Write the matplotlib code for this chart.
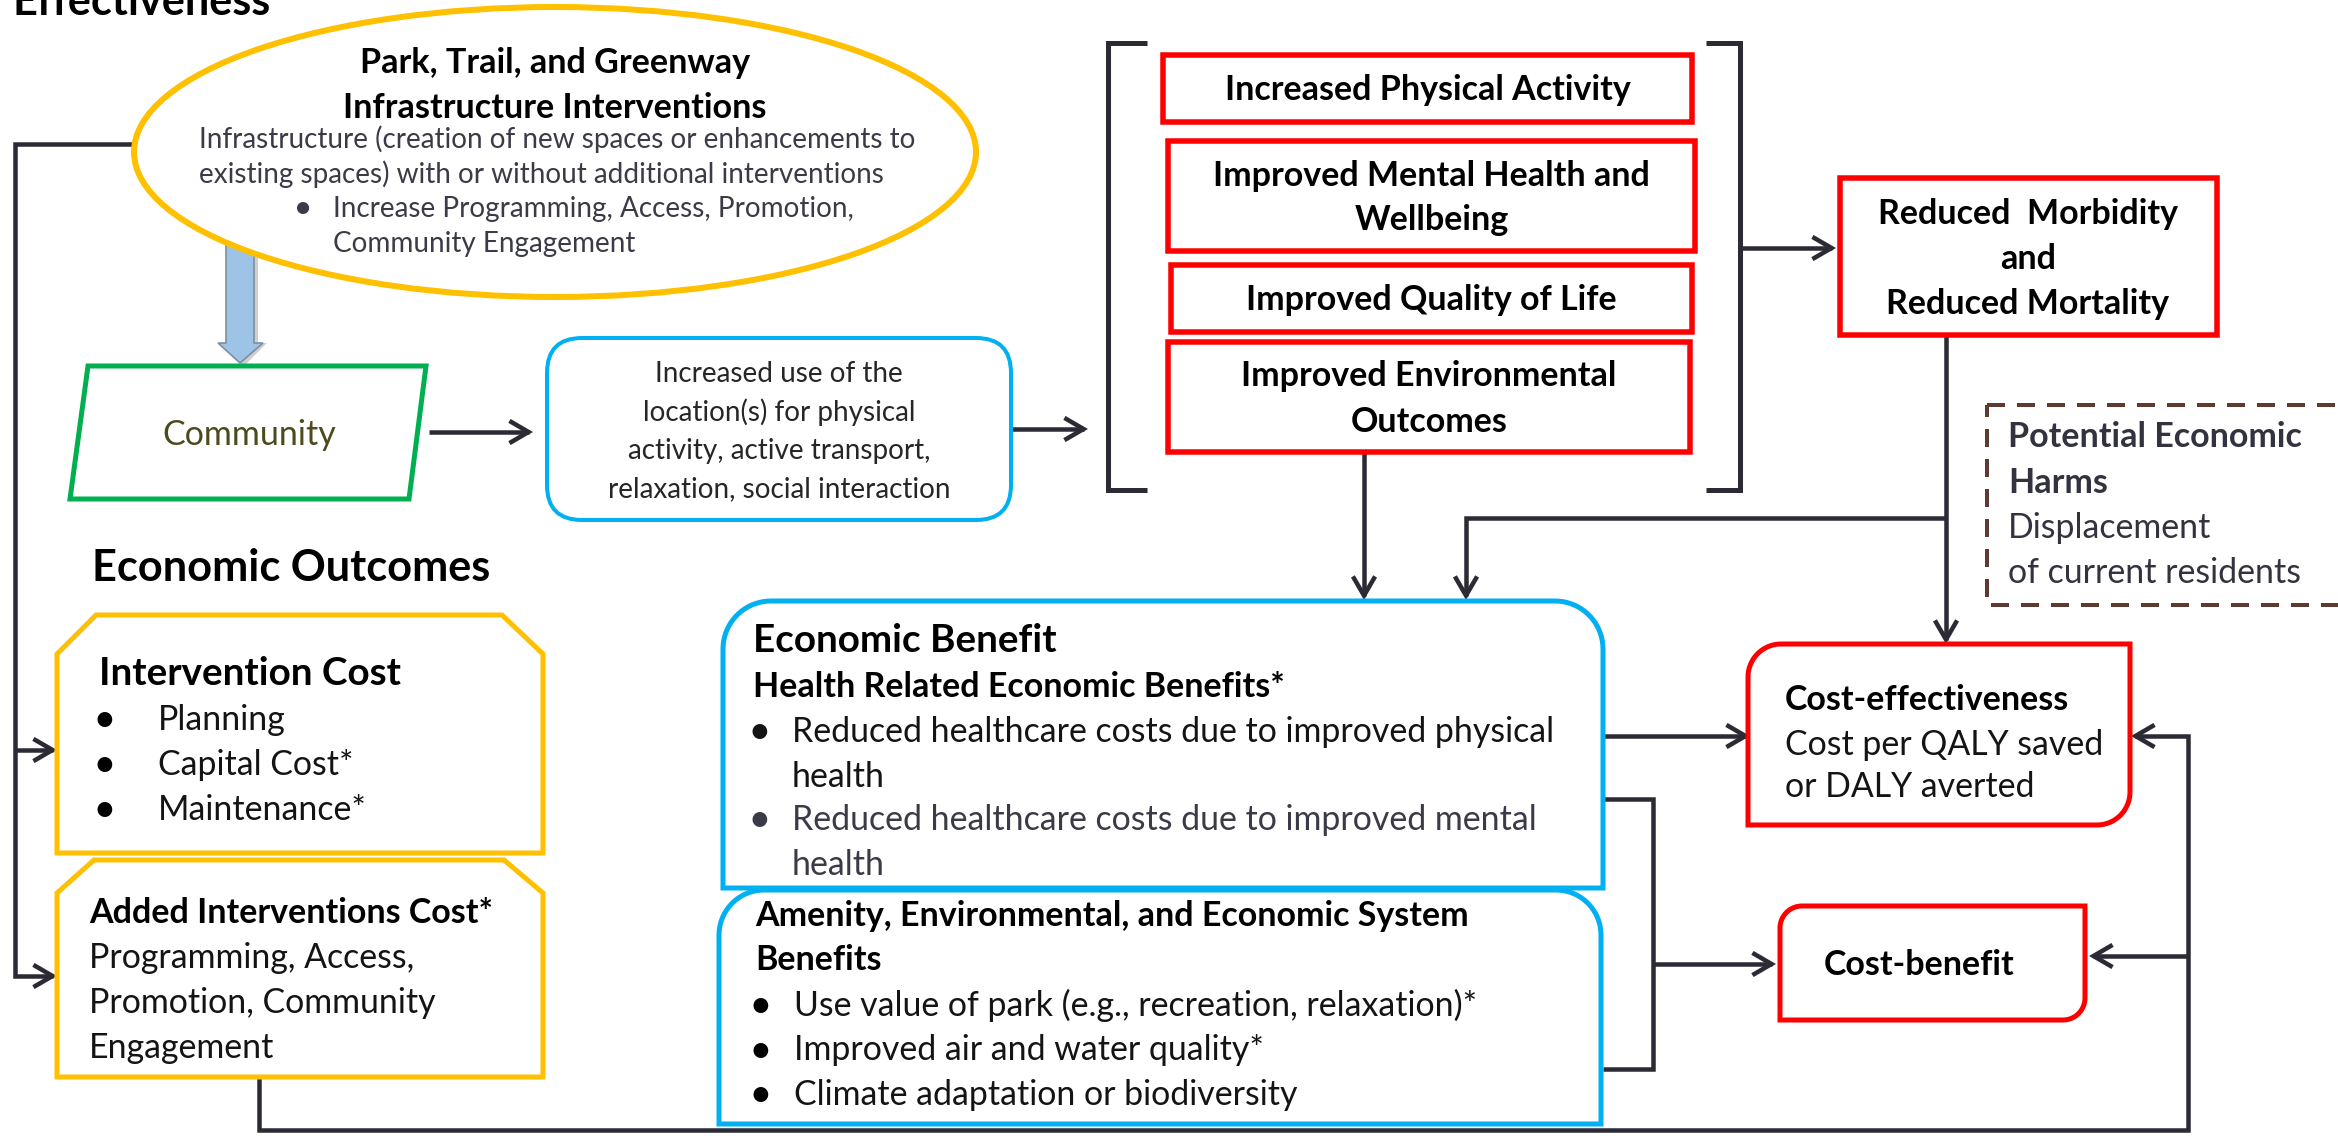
import matplotlib
matplotlib.use('Agg')
import matplotlib.pyplot as plt
from matplotlib.patches import Polygon, Ellipse, FancyArrowPatch, FancyBboxPatch, Rectangle
from matplotlib.path import Path
import numpy as np

plt.rcParams['font.family'] = ['Lato', 'DejaVu Sans']

# -------------------------------------------------------------------------------------------------------------------- #
# Texts
# -------------------------------------------------------------------------------------------------------------------- #

top_title = 'Effectiveness'
section_title = 'Economic Outcomes'

park_title = ['Park, Trail, and Greenway', 'Infrastructure Interventions']
park_desc = ['Infrastructure (creation of new spaces or enhancements to',
             'existing spaces) with or without additional interventions']
park_bullet = ['Increase Programming, Access, Promotion,', 'Community Engagement']

community_label = 'Community'
use_lines = ['Increased use of the', 'location(s) for physical',
             'activity, active transport,', 'relaxation, social interaction']

health_outcomes = [['Increased Physical Activity'],
                   ['Improved Mental Health and', 'Wellbeing'],
                   ['Improved Quality of Life'],
                   ['Improved Environmental', 'Outcomes']]
morbidity_lines = ['Reduced  Morbidity', 'and', 'Reduced Mortality']

harms_title = ['Potential Economic', 'Harms']
harms_text = ['Displacement', 'of current residents']

cost_title = 'Intervention Cost'
cost_items = ['Planning', 'Capital Cost*', 'Maintenance*']
added_title = 'Added Interventions Cost*'
added_lines = ['Programming, Access,', 'Promotion, Community', 'Engagement']

benefit_title = 'Economic Benefit'
health_benefit_title = 'Health Related Economic Benefits*'
health_benefit_items = [['Reduced healthcare costs due to improved physical', 'health'],
                        ['Reduced healthcare costs due to improved mental', 'health']]
amenity_title = ['Amenity, Environmental, and Economic System', 'Benefits']
amenity_items = ['Use value of park (e.g., recreation, relaxation)*',
                 'Improved air and water quality*',
                 'Climate adaptation or biodiversity']

ce_title = 'Cost-effectiveness'
ce_lines = ['Cost per QALY saved', 'or DALY averted']
cb_title = 'Cost-benefit'

# -------------------------------------------------------------------------------------------------------------------- #
# Styles
# -------------------------------------------------------------------------------------------------------------------- #

W, H = 2338, 1136
LINE = '#2B2A35'
GOLD = '#FFC000'
RED = '#FF0000'
BLUE = '#00B0F0'
GREEN = '#00B050'
TXT = '#141414'
GREY_TXT = '#3B3B48'
BULLET = '\u2022'

fig = plt.figure(figsize=(W / 100, H / 100), dpi=100)
ax = fig.add_axes([0, 0, 1, 1])
ax.set_xlim(0, W)
ax.set_ylim(H, 0)
ax.axis('off')
renderer = fig.canvas.get_renderer()


def fit_size(samples, bold):
    # font size (pt) so that sample strings get the pixel widths they have in the reference
    sizes = []
    for s, target in samples:
        t = ax.text(0, 0, s, fontsize=10, fontweight='bold' if bold else 'normal')
        w = t.get_window_extent(renderer).width
        t.remove()
        sizes.append(10 * target / w)
    return float(np.mean(sizes))


HEAD = fit_size([(section_title, 399)], True)
TITLE = fit_size([(benefit_title, 305), (cost_title, 303)], True)
LABEL = fit_size([(health_outcomes[1][0], 443), (health_outcomes[0][0], 406), (ce_title, 278),
                  (health_benefit_title, 535), (added_title, 408), (harms_title[0], 295)], True)
BODY = fit_size([(health_benefit_items[0][0], 773), (ce_lines[0], 303), (cost_items[1], 194),
                 (cost_items[2], 214), (harms_text[1], 295), (added_lines[1], 355)], False)
ELL_TITLE = fit_size([(park_title[1], 426), (park_title[0], 391)], True)
SMALL = fit_size([(park_bullet[0], 504), (park_desc[0], 699), (use_lines[3], 365)], False)
COMM = fit_size([(community_label, 174)], False)


def pw(px):
    # pixel width -> points
    return px * 0.72


def put(x, y, s, size, bold=False, color=TXT, ha='left'):
    # y is the text baseline in pixels
    ax.text(x, y, s, fontsize=size, fontweight='bold' if bold else 'normal',
            color=color, ha=ha, va='baseline', zorder=10)


def line(pts, color=LINE, w=4.5):
    pts = np.array(pts, dtype=float)
    ax.plot(pts[:, 0], pts[:, 1], color=color, lw=pw(w), solid_joinstyle='miter',
            solid_capstyle='butt', zorder=3)


def arrow(pts, color=LINE, w=4.5):
    p = FancyArrowPatch(path=Path(np.array(pts, dtype=float)),
                        arrowstyle='->,head_length=0.55,head_width=0.32', mutation_scale=25,
                        lw=pw(w), color=color, joinstyle='miter', capstyle='butt', zorder=3)
    ax.add_patch(p)


def round_rect(x0, y0, x1, y1, radii, n=20):
    tl, tr, br, bl = radii
    t = np.linspace(0, np.pi / 2, n)
    pts = []
    pts += list(zip(x0 + tl - tl * np.cos(t), y0 + tl - tl * np.sin(t)))
    pts += list(zip(x1 - tr + tr * np.sin(t), y0 + tr - tr * np.cos(t)))
    pts += list(zip(x1 - br + br * np.cos(t), y1 - br + br * np.sin(t)))
    pts += list(zip(x0 + bl - bl * np.sin(t), y1 - bl + bl * np.cos(t)))
    return np.array(pts)


# -------------------------------------------------------------------------------------------------------------------- #
# Drawing
# -------------------------------------------------------------------------------------------------------------------- #

# Headings
put(13, 15, top_title, HEAD, bold=True, color='black')
put(92, 581, section_title, HEAD, bold=True, color='black')

# Blue block arrow (ellipse -> community)
shadow = [(230, 240), (258, 240), (258, 343), (267, 343), (244, 366), (222, 343), (230, 343)]
ax.add_patch(Polygon(shadow, closed=True, fc='#B0B0B0', ec='none', alpha=0.6, zorder=1))
blk = [(226, 236), (254, 236), (254, 343), (263, 343), (240, 363), (218, 343), (226, 343)]
ax.add_patch(Polygon(blk, closed=True, fc='#9DC3E6', ec='#7F8FA0', lw=1.2, zorder=2))

# Ellipse
ax.add_patch(Ellipse((555, 152), 842, 290, fc='white', ec=GOLD, lw=pw(6), zorder=4))
for i, s in enumerate(park_title):
    put(555, 73 + 45 * i, s, ELL_TITLE, bold=True, color='black', ha='center')
for i, s in enumerate(park_desc):
    put(199, 148 + 35 * i, s, SMALL, color=GREY_TXT)
put(303, 217, BULLET, SMALL, bold=True, color=GREY_TXT, ha='center')
for i, s in enumerate(park_bullet):
    put(333, 217 + 35 * i, s, SMALL, color=GREY_TXT)

# Left feedback line
arrow([(134, 144), (15, 144), (15, 976), (57, 976)])
arrow([(15, 750), (57, 750)])

# Community
ax.add_patch(Polygon([(88, 366), (426, 366), (409, 499), (70, 499)], closed=True,
                     fc='white', ec=GREEN, lw=pw(5), zorder=4))
put(249, 445, community_label, COMM, color='#4D4A1E', ha='center')
arrow([(429, 432), (533, 432)])

# Use box
ax.add_patch(FancyBboxPatch((547, 338), 464, 182, boxstyle='round,pad=0,rounding_size=35',
                            fc='white', ec=BLUE, lw=pw(4), zorder=4))
for i, s in enumerate(use_lines):
    put(779, 382 + 38.5 * i, s, SMALL, color='#262626', ha='center')
arrow([(1011, 429), (1088, 429)])

# Brackets
line([(1147, 43), (1108, 43), (1108, 490), (1147, 490)], w=5)
line([(1706, 43), (1740, 43), (1740, 490), (1706, 490)], w=5)

# Red outcome boxes
red_boxes = [(1163, 55, 1692, 122), (1168, 141, 1695, 251), (1171, 265, 1692, 332), (1168, 342, 1690, 452)]
for (x0, y0, x1, y1), lines_ in zip(red_boxes, health_outcomes):
    ax.add_patch(Rectangle((x0, y0), x1 - x0, y1 - y0, fc='white', ec=RED, lw=pw(5.5), zorder=4))
    yb = (y0 + y1) / 2 + 12 - 22.5 * (len(lines_) - 1)
    for i, s in enumerate(lines_):
        put((x0 + x1) / 2, yb + 45 * i, s, LABEL, bold=True, color='black', ha='center')

arrow([(1740, 248), (1836, 248)])

# Morbidity box
ax.add_patch(Rectangle((1840, 178), 377, 157, fc='white', ec=RED, lw=pw(5.5), zorder=4))
for i, s in enumerate(morbidity_lines):
    put(2028, 224 + 45 * i, s, LABEL, bold=True, color='black', ha='center')

# Lines into economic benefit / cost-effectiveness
arrow([(1946, 335), (1946, 644)])
arrow([(1946, 518), (1466, 518), (1466, 600)])
arrow([(1364, 452), (1364, 600)])

# Potential harms (dashed)
ax.add_patch(Rectangle((1987, 405), 400, 200, fc='none', ec='#5E3B30', lw=pw(4),
                       ls=(0, (4.5, 3)), zorder=4))
for i, s in enumerate(harms_title):
    put(2008, 447 + 46 * i, s, LABEL, bold=True, color='#333340')
for i, s in enumerate(harms_text):
    put(2008, 538 + 45 * i, s, BODY, color='#333340')

# Intervention cost boxes
ax.add_patch(Polygon([(96, 615), (502, 615), (543, 654), (543, 853), (57, 853), (57, 654)],
                     closed=True, fc='white', ec=GOLD, lw=pw(5), zorder=4))
put(99, 685, cost_title, TITLE, bold=True, color='black')
for i, s in enumerate(cost_items):
    put(104, 730 + 45 * i, BULLET, BODY, bold=True, color='black', ha='center')
    put(158, 730 + 45 * i, s, BODY)

ax.add_patch(Polygon([(94, 860), (504, 860), (543, 893), (543, 1077), (57, 1077), (57, 893)],
                     closed=True, fc='white', ec=GOLD, lw=pw(5), zorder=4))
put(89, 923, added_title, LABEL, bold=True, color='black')
for i, s in enumerate(added_lines):
    put(89, 968 + 45 * i, s, BODY)

# Economic benefit boxes
ax.add_patch(Polygon(round_rect(723, 601, 1603, 888, (48, 48, 0, 0)), closed=True,
                     fc='white', ec=BLUE, lw=pw(5), zorder=4))
put(753, 652, benefit_title, TITLE, bold=True, color='black')
put(753, 697, health_benefit_title, LABEL, bold=True, color='black')
for j, (y, item) in enumerate(zip([742, 830], health_benefit_items)):
    col = TXT if j == 0 else GREY_TXT
    put(759, y, BULLET, BODY, bold=True, color=col, ha='center')
    for i, s in enumerate(item):
        put(792, y + 45 * i, s, BODY, color=col)

ax.add_patch(Polygon(round_rect(719, 890, 1601, 1124, (45, 45, 0, 0)), closed=True,
                     fc='white', ec=BLUE, lw=pw(5), zorder=4))
for i, s in enumerate(amenity_title):
    put(755, 926 + 44 * i, s, LABEL, bold=True, color='black')
for i, s in enumerate(amenity_items):
    put(760, 1016 + 44.5 * i, BULLET, BODY, bold=True, color='black', ha='center')
    put(794, 1016 + 44.5 * i, s, BODY)

# Connectors to cost-effectiveness / cost-benefit
arrow([(1603, 736), (1750, 736)])
line([(1603, 799), (1653, 799), (1653, 1069), (1603, 1069)])
arrow([(1653, 964), (1776, 964)])

# Cost-effectiveness
ax.add_patch(Polygon(round_rect(1748, 644, 2130, 825, (33, 0, 33, 0)), closed=True,
                     fc='white', ec=RED, lw=pw(5), zorder=4))
put(1785, 710, ce_title, LABEL, bold=True, color='black')
for i, s in enumerate(ce_lines):
    put(1785, 755 + 42 * i, s, BODY)

# Cost-benefit
ax.add_patch(Polygon(round_rect(1780, 906, 2085, 1020, (22, 0, 22, 0)), closed=True,
                     fc='white', ec=RED, lw=pw(5), zorder=4))
put(1824, 975, cb_title, LABEL, bold=True, color='black')

# Bottom / right feedback loop
arrow([(259, 1077), (259, 1130), (2188, 1130), (2188, 736), (2131, 736)])
arrow([(2188, 956), (2089, 956)])

fig.savefig('out.png', dpi=100, facecolor='white')
